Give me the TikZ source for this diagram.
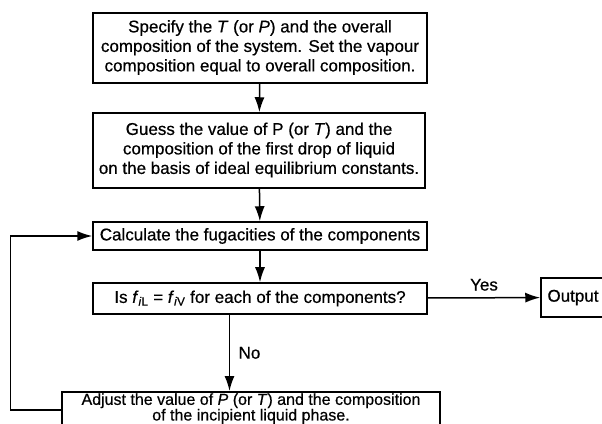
\documentclass[tikz,border=0pt]{standalone}
\usepackage{fontspec}
\setmainfont{Liberation Sans}[FakeBold=0.6]
\usetikzlibrary{arrows.meta}

\begin{document}
\begin{tikzpicture}[
    x=1pt, y=1pt,
    every node/.style={font=\fontsize{17}{19.5}\selectfont},
    box/.style={draw, line width=1.5pt, inner sep=0pt},
    arrow/.style={-{Latex[length=15pt, width=10pt]}, line width=1.5pt}
]
    \useasboundingbox (0,0) rectangle (602,423);

    % ---- Specify ----
    \node[box, minimum width=334, minimum height=70] (spec) at (260, 375) {
        \begin{tabular}{@{}c@{}}
        Specify the \textit{T} (or \textit{P}) and the overall \\
        composition of the system. Set the vapour \\
        composition equal to overall composition. \\
        \end{tabular}
    };

    % ---- Guess ----
    \node[box, minimum width=332, minimum height=75] (guess) at (259, 272.5) {
        \begin{tabular}{@{}c@{}}
        Guess the value of P (or \textit{T}) and the \\
        composition of the first drop of liquid \\
        on the basis of ideal equilibrium constants. \\
        \end{tabular}
    };

    % ---- Fugacities ----
    \node[box, minimum width=334, minimum height=28] (calc) at (260, 187) {
        Calculate the fugacities of the components
    };

    % ---- Test ----
    \node[box, minimum width=334, minimum height=31] (test) at (260, 124.5) {
        Is \textit{f}\textsubscript{\textit{i}L} = \textit{f}\textsubscript{\textit{i}V} for each of the components?
    };

    % ---- Output ----
    \node[box, minimum width=64, minimum height=39] (out) at (573, 125.5) {Output};

    % ---- Adjust ----
    \node[box, minimum width=378, anchor=north,
          inner ysep=1.5pt, font=\fontsize{16}{13.5}\selectfont] (adj) at (251, 32) {
        \begin{tabular}{@{}c@{}}
        Adjust the value of \textit{P} (or \textit{T}) and the composition \\
        of the incipient liquid phase.
        \end{tabular}
    };

    % ---- Flow ----
    \draw[arrow] (spec) -- (guess);
    \draw[arrow] (guess) -- (calc);
    \draw[arrow] (calc) -- (test);
    \draw[arrow] (test) -- (out) node[midway, above=3pt] {Yes};
    \draw[arrow] (test.south -| 229.5,0) -- (adj.north -| 229.5,0)
        node[midway, right=5pt] {No};
    \draw[arrow] ([yshift=-1pt]adj.west) -- ++(-51,0) |- (calc.west);

\end{tikzpicture}
\end{document}
